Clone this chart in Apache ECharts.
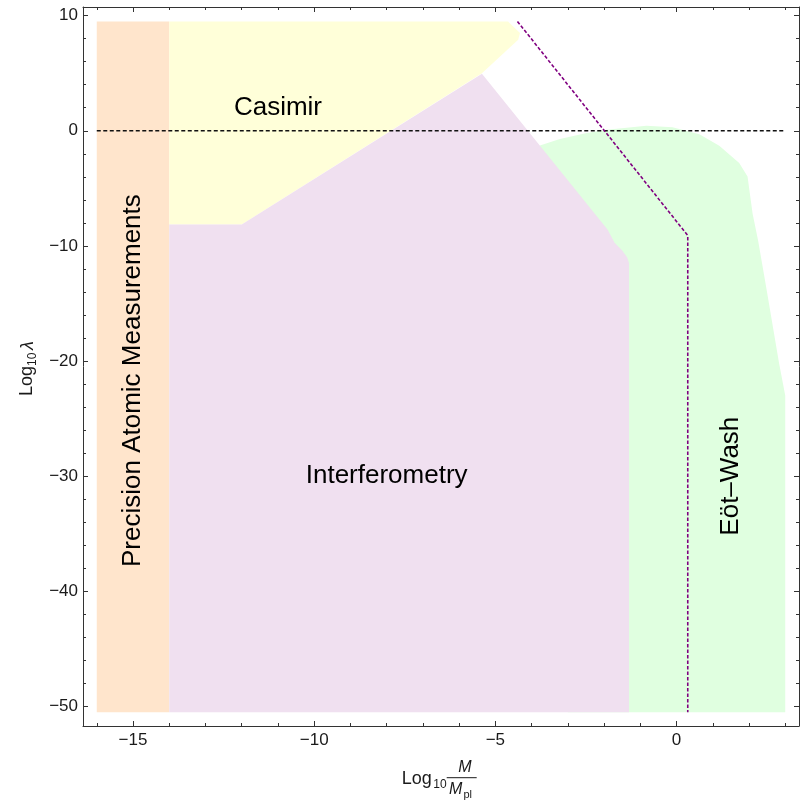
<!DOCTYPE html>
<html>
<head>
<meta charset="utf-8">
<script src="https://cdn.jsdelivr.net/npm/echarts@6/dist/echarts.min.js"></script>
<style>
  html, body { margin: 0; padding: 0; background: #fff; }
  #main { width: 806px; height: 807px; }
</style>
</head>
<body>
<div id="main"></div>
<script>
// exclusion regions, points are [log10 M/Mpl, log10 lambda]
var atomic = [[-16, -50.5], [-16, 9.5], [-14, 9.5], [-14, -50.5]];
var casimir = [[-14, 9.5], [-4.65, 9.5], [-4.32, 8.5], [-4.37, 7.9], [-5.37, 5.0], [-12.0, -8.15], [-14, -8.15]];
var interferometry = [[-14, -50.5], [-14, -8.15], [-12.0, -8.15], [-5.37, 4.95], [-1.90, -8.6], [-1.71, -9.73],
  [-1.50, -10.4], [-1.36, -11.0], [-1.31, -11.5], [-1.31, -50.5]];
var eotWash = [[-3.77, -1.28], [-3.22, -0.72], [-2.48, -0.2], [-1.93, 0.09], [-0.83, 0.43], [-0.11, 0.3],
  [0.63, -0.3], [1.18, -1.3], [1.73, -2.8], [1.96, -3.97], [2.10, -7.2], [2.25, -9.5], [2.47, -13.5],
  [2.83, -20.2], [3.0, -23], [3.0, -50.5], [-3.0, -50.5]];
var boundLine = [[-4.39, 9.5], [0.31, -9.1], [0.31, -50.5]];
var zeroLine = [[-16, 0], [3, 0]];

var labelText = ['Casimir', 'Interferometry', 'Precision Atomic Measurements', 'E\u00f6t\u2013Wash'];
var labelPos = [[-11, 2], [-8, -30], [-15, -21.7], [1.5, -30]];
var labelRotate = [0, 0, 90, 90];

var xMajor = [-15, -10, -5, 0];
var xMinor = [-16, -15, -14, -13, -12, -11, -10, -9, -8, -7, -6, -5, -4, -3, -2, -1, 0, 1, 2, 3];
var yMajor = [10, 0, -10, -20, -30, -40, -50];
var yMinor = [10, 8, 6, 4, 2, 0, -2, -4, -6, -8, -10, -12, -14, -16, -18, -20, -22, -24, -26, -28, -30,
  -32, -34, -36, -38, -40, -42, -44, -46, -48, -50];

var xMin = -16.38, xMax = 3.38, yMin = -51.7, yMax = 10.75;
var FONT = '"Liberation Sans", Arial, Helvetica, sans-serif';
var frameColor = '#333';

function minusFmt(v) {
  return v < 0 ? '\u2212' + (-v) : String(v);
}

function makeAxis(dim, pos, grid, ticks, len, withLabel, withLine) {
  return {
    type: 'value',
    gridIndex: grid,
    position: pos,
    min: dim === 'x' ? xMin : yMin,
    max: dim === 'x' ? xMax : yMax,
    axisLine: { show: withLine, onZero: false, lineStyle: { color: frameColor, width: 1 } },
    axisTick: { show: true, inside: true, length: len, customValues: ticks, lineStyle: { color: frameColor, width: 1 } },
    axisLabel: {
      show: withLabel, customValues: ticks, formatter: minusFmt,
      fontFamily: FONT, fontSize: 17, color: '#1a1a1a', margin: dim === 'x' ? 6 : 5
    },
    splitLine: { show: false }
  };
}

function regionSeries(pts, color, z) {
  return {
    type: 'custom', z: z, silent: true,
    xAxisIndex: 0, yAxisIndex: 0,
    data: pts,
    renderItem: function (params, api) {
      if (params.dataIndex !== 0) return;
      var shape = pts.map(function (p) { return api.coord(p); });
      return { type: 'polygon', shape: { points: shape }, style: { fill: color } };
    }
  };
}

var chart = echarts.init(document.getElementById('main'));
var gridBox = { left: 83, right: 7, top: 7, bottom: 81, outerBoundsMode: 'none' };

chart.setOption({
  animation: false,
  grid: [Object.assign({}, gridBox), Object.assign({}, gridBox)],
  xAxis: [
    makeAxis('x', 'bottom', 0, xMajor, 5, true, true),
    makeAxis('x', 'top', 0, xMajor, 5, false, true),
    makeAxis('x', 'bottom', 1, xMinor, 3, false, false),
    makeAxis('x', 'top', 1, xMinor, 3, false, false)
  ],
  yAxis: [
    makeAxis('y', 'left', 0, yMajor, 5, true, true),
    makeAxis('y', 'right', 0, yMajor, 5, false, true),
    makeAxis('y', 'left', 1, yMinor, 3, false, false),
    makeAxis('y', 'right', 1, yMinor, 3, false, false)
  ],
  series: [
    regionSeries(atomic, '#FFE5CC', 1),
    regionSeries(casimir, '#FFFFD9', 2),
    regionSeries(eotWash, '#E0FFE0', 3),
    regionSeries(interferometry, '#F0E0F0', 4),
    {
      type: 'line', z: 6, silent: true, data: zeroLine, showSymbol: false,
      lineStyle: { color: '#111', width: 1.5, type: [4, 2.5] }
    },
    {
      type: 'line', z: 7, silent: true, data: boundLine, showSymbol: false,
      lineStyle: { color: '#800080', width: 1.6, type: [3.5, 2] }
    },
    {
      type: 'custom', z: 8, silent: true,
      data: labelPos.map(function (p, i) { return [p[0], p[1], i]; }),
      renderItem: function (params, api) {
        var i = api.value(2);
        var pt = api.coord([api.value(0), api.value(1)]);
        return {
          type: 'text', x: pt[0], y: pt[1],
          rotation: labelRotate[i] * Math.PI / 180,
          style: {
            text: labelText[i], fill: '#000',
            font: '26px ' + FONT, align: 'center', verticalAlign: 'middle'
          }
        };
      }
    }
  ],
  graphic: [
    {
      type: 'group', x: 27.5, y: 367, rotation: Math.PI / 2,
      children: [
        { type: 'text', x: -29, y: 0, style: { text: 'Log', font: '18px ' + FONT, fill: '#1a1a1a', verticalAlign: 'middle' } },
        { type: 'text', x: 1, y: 5, style: { text: '10', font: '12px ' + FONT, fill: '#1a1a1a', verticalAlign: 'middle' } },
        { type: 'text', x: 17, y: 0, style: { text: '\u03bb', font: 'italic 18px ' + FONT, fill: '#1a1a1a', verticalAlign: 'middle' } }
      ]
    },
    { type: 'text', x: 401.7, y: 779.5, style: { text: 'Log', font: '18px ' + FONT, fill: '#1a1a1a', verticalAlign: 'middle' } },
    { type: 'text', x: 433.3, y: 785, style: { text: '10', font: '12px ' + FONT, fill: '#1a1a1a', verticalAlign: 'middle' } },
    { type: 'text', x: 465, y: 767.5, style: { text: 'M', font: 'italic 16px ' + FONT, fill: '#1a1a1a', align: 'center', verticalAlign: 'middle' } },
    { type: 'line', shape: { x1: 446.7, y1: 777.7, x2: 476.7, y2: 777.7 }, style: { stroke: '#1a1a1a', lineWidth: 1 } },
    { type: 'text', x: 449, y: 790, style: { text: 'M', font: 'italic 16px ' + FONT, fill: '#1a1a1a', verticalAlign: 'middle' } },
    { type: 'text', x: 463.5, y: 795, style: { text: 'pl', font: '11px ' + FONT, fill: '#1a1a1a', verticalAlign: 'middle' } }
  ]
});
</script>
</body>
</html>
